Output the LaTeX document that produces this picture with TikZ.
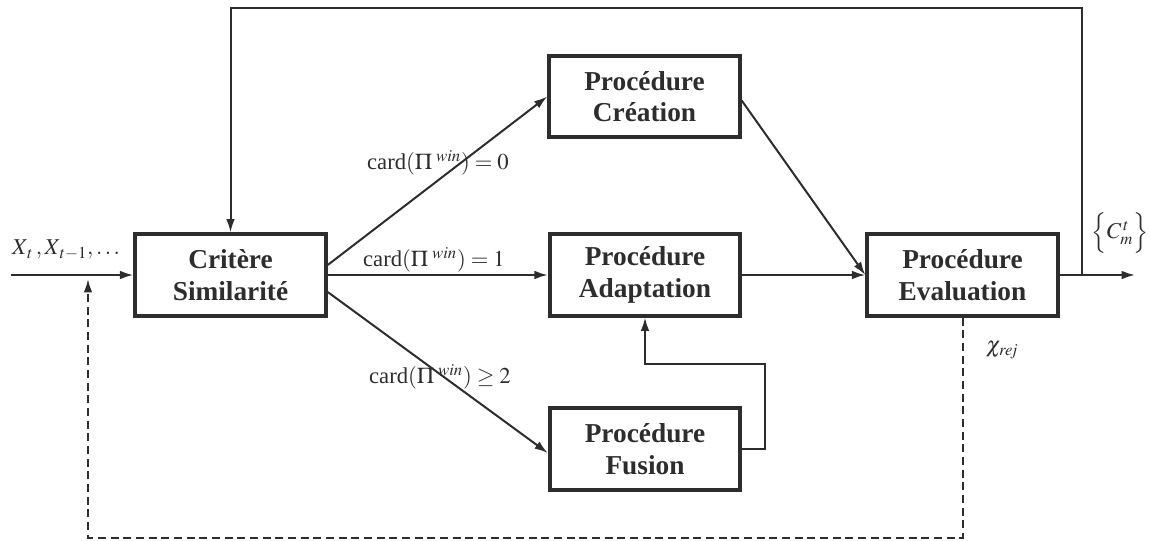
\documentclass[tikz,border=0pt]{standalone}
\usepackage{amsmath}
\usepackage{amssymb}
\usepackage{mathptmx}
\usepackage{fontspec}
\setmainfont{Liberation Serif}
\usetikzlibrary{arrows.meta,calc}
\definecolor{trait}{RGB}{45,45,45}

\begin{document}
\begin{tikzpicture}[x=0.75pt,y=-0.75pt,>={Latex[length=10pt,width=6.5pt]},
    bloc/.style={draw=trait,line width=2.8pt,minimum width=143pt,minimum height=61pt,
        align=center,text=trait,font=\fontsize{20.5}{23.5}\selectfont\bfseries},
    fleche/.style={draw=trait,line width=1.5pt},
    etiq/.style={text=trait,inner sep=0pt,font=\fontsize{17}{20}\selectfont}]
                \useasboundingbox (0,0) rectangle (1150,540);
                \node[bloc] (crit) at (230.5,275) {Critère\\Similarité};
                \node[bloc] (crea) at (644.5,96.5) {Procédure\\Création};
                \node[bloc] (adap) at (645,275) {Procédure\\Adaptation};
                \node[bloc] (fus) at (645,449) {Procédure\\Fusion};
                \node[bloc] (eval) at (962.5,275) {Procédure\\Evaluation};
                \coordinate (entree) at (11,275);
                \coordinate (sortie) at (1135,275);
                \coordinate (jonction) at (1082,275);
                \coordinate (haut) at (1082,8);
                \coordinate (retour) at (88,279);
                \draw[fleche,->] (entree) -- (crit);
                \draw[fleche,->] ($(crit.east)+(0,-10)$) -- (crea.west);
                \draw[fleche,->] (crit.east) -- (adap.west);
                \draw[fleche,->] ($(crit.east)+(0,17)$) -- ($(fus.west)+(0,4)$);
                \draw[fleche,->] ($(crea.east)+(0,4)$) -- (eval.west);
                \draw[fleche,->] (adap.east) -- (eval.west);
                \draw[fleche,->] (fus.east) -- ++(23,0) |- ($(adap.south)+(0,46)$) -- (adap.south);
                \draw[fleche,->] (eval.east) -- (sortie);
                \draw[fleche,->] (jonction) -- (haut) -| (crit.north);
                \draw[fleche,dash pattern=on 6pt off 3.5pt,->] (eval.south) -- ++(0,220) -| (retour);
                \node[etiq] (lab0) at (438,163) {card$(\Pi^{\;win}) = 0$};
                \node[etiq] (lab1) at (434,260) {card$(\Pi^{\;win}) = 1$};
                \node[etiq] (lab2) at (440,377) {card$(\Pi^{\;win}) \geq 2$};
                \node[etiq] (xin) at (66,250) {$X_{\,t}\,, X_{\,t-1}, \ldots$};
                \node[etiq] (cout) at (1120,233) {$\Big\{ C^{\,t}_{m} \Big\}$};
                \node[etiq] (xrej) at (1002,350) {$\chi_{\mathit{rej}}$};
            \end{tikzpicture}
\end{document}
